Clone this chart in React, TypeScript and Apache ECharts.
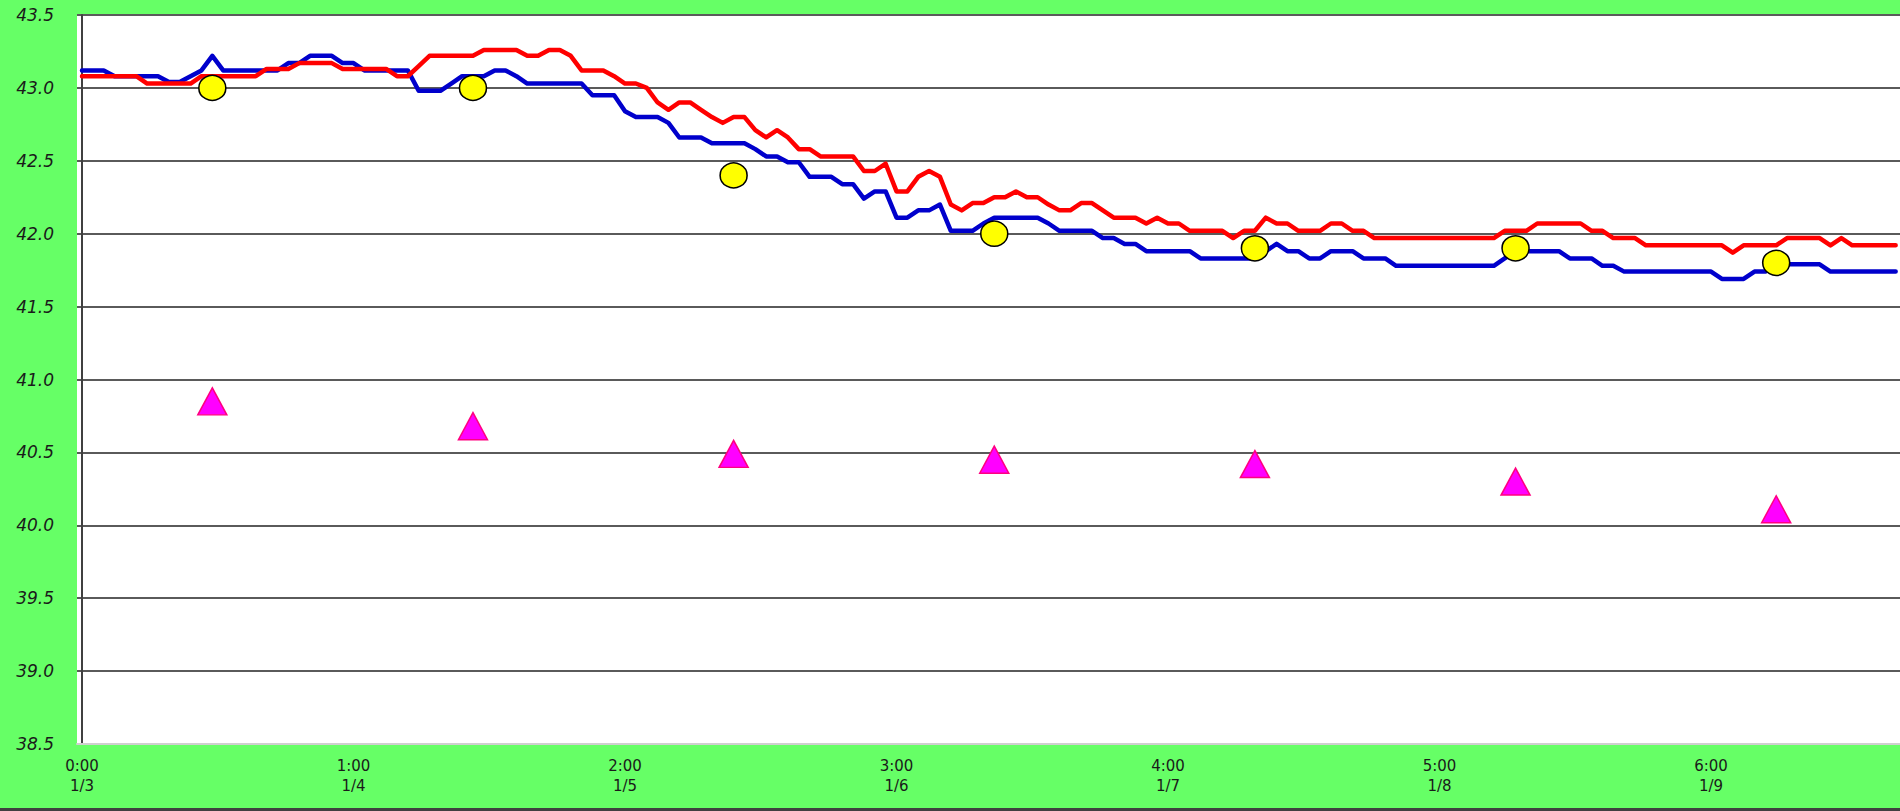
import React, { useEffect, useRef } from "react";
import * as echarts from "echarts";

// Red series (sample index 0..167)
const redValues: number[] = [
  43.08, 43.08, 43.08, 43.08, 43.08, 43.08, 43.03, 43.03, 43.03, 43.03,
  43.03, 43.08, 43.08, 43.08, 43.08, 43.08, 43.08, 43.13, 43.13, 43.13,
  43.17, 43.17, 43.17, 43.17, 43.13, 43.13, 43.13, 43.13, 43.13, 43.08,
  43.08, 43.15, 43.22, 43.22, 43.22, 43.22, 43.22, 43.26, 43.26, 43.26,
  43.26, 43.22, 43.22, 43.26, 43.26, 43.22, 43.12, 43.12, 43.12, 43.08,
  43.03, 43.03, 43.0, 42.9, 42.85, 42.9, 42.9, 42.85, 42.8, 42.76,
  42.8, 42.8, 42.71, 42.66, 42.71, 42.66, 42.58, 42.58, 42.53, 42.53,
  42.53, 42.53, 42.43, 42.43, 42.48, 42.29, 42.29, 42.39, 42.43, 42.39,
  42.2, 42.16, 42.21, 42.21, 42.25, 42.25, 42.29, 42.25, 42.25, 42.2,
  42.16, 42.16, 42.21, 42.21, 42.16, 42.11, 42.11, 42.11, 42.07, 42.11,
  42.07, 42.07, 42.02, 42.02, 42.02, 42.02, 41.97, 42.02, 42.02, 42.11,
  42.07, 42.07, 42.02, 42.02, 42.02, 42.07, 42.07, 42.02, 42.02, 41.97,
  41.97, 41.97, 41.97, 41.97, 41.97, 41.97, 41.97, 41.97, 41.97, 41.97,
  41.97, 42.02, 42.02, 42.02, 42.07, 42.07, 42.07, 42.07, 42.07, 42.02,
  42.02, 41.97, 41.97, 41.97, 41.92, 41.92, 41.92, 41.92, 41.92, 41.92,
  41.92, 41.92, 41.87, 41.92, 41.92, 41.92, 41.92, 41.97, 41.97, 41.97,
  41.97, 41.92, 41.97, 41.92, 41.92, 41.92, 41.92, 41.92,
];

// Blue series (sample index 0..167)
const blueValues: number[] = [
  43.12, 43.12, 43.12, 43.08, 43.08, 43.08, 43.08, 43.08, 43.04, 43.04,
  43.08, 43.12, 43.22, 43.12, 43.12, 43.12, 43.12, 43.12, 43.12, 43.17,
  43.17, 43.22, 43.22, 43.22, 43.17, 43.17, 43.12, 43.12, 43.12, 43.12,
  43.12, 42.98, 42.98, 42.98, 43.03, 43.08, 43.08, 43.08, 43.12, 43.12,
  43.08, 43.03, 43.03, 43.03, 43.03, 43.03, 43.03, 42.95, 42.95, 42.95,
  42.84, 42.8, 42.8, 42.8, 42.76, 42.66, 42.66, 42.66, 42.62, 42.62,
  42.62, 42.62, 42.58, 42.53, 42.53, 42.49, 42.49, 42.39, 42.39, 42.39,
  42.34, 42.34, 42.24, 42.29, 42.29, 42.11, 42.11, 42.16, 42.16, 42.2,
  42.02, 42.02, 42.02, 42.07, 42.11, 42.11, 42.11, 42.11, 42.11, 42.07,
  42.02, 42.02, 42.02, 42.02, 41.97, 41.97, 41.93, 41.93, 41.88, 41.88,
  41.88, 41.88, 41.88, 41.83, 41.83, 41.83, 41.83, 41.83, 41.83, 41.88,
  41.93, 41.88, 41.88, 41.83, 41.83, 41.88, 41.88, 41.88, 41.83, 41.83,
  41.83, 41.78, 41.78, 41.78, 41.78, 41.78, 41.78, 41.78, 41.78, 41.78,
  41.78, 41.83, 41.88, 41.88, 41.88, 41.88, 41.88, 41.83, 41.83, 41.83,
  41.78, 41.78, 41.74, 41.74, 41.74, 41.74, 41.74, 41.74, 41.74, 41.74,
  41.74, 41.69, 41.69, 41.69, 41.74, 41.74, 41.79, 41.79, 41.79, 41.79,
  41.79, 41.74, 41.74, 41.74, 41.74, 41.74, 41.74, 41.74,
];

// Marker positions (sample index) and values
const markerIndex: number[] = [12, 36, 60, 84, 108, 132, 156];
const circleValues: number[] = [43.0, 43.0, 42.4, 42.0, 41.9, 41.9, 41.8];
const triangleValues: number[] = [40.85, 40.68, 40.49, 40.45, 40.42, 40.3, 40.11];

// X tick labels and their sample positions
const tickIndex: number[] = [0, 25, 50, 75, 100, 125, 150];
const tickLabels: string[] = [
  "0:00\n1/3",
  "1:00\n1/4",
  "2:00\n1/5",
  "3:00\n1/6",
  "4:00\n1/7",
  "5:00\n1/8",
  "6:00\n1/9",
];

const Y_MIN = 38.5;
const Y_MAX = 43.5;
const Y_STEP = 0.5;

export default function App() {
  const ref = useRef<HTMLDivElement>(null);

  useEffect(() => {
    document.body.style.margin = "0";
    if (!ref.current) return;
    const chart = echarts.init(ref.current, null, { renderer: "svg" });
    const nSplit = Math.round((Y_MAX - Y_MIN) / Y_STEP) + 1;
    const splitColors = Array.from({ length: nSplit }, (_, i) =>
      i === 0 ? "rgba(0,0,0,0)" : "#5a5a5a"
    );
    chart.setOption({
      animation: false,
      backgroundColor: "#66FF66",
      grid: {
        left: 77,
        right: 0,
        top: 15,
        bottom: 67,
        show: true,
        backgroundColor: "#ffffff",
        borderWidth: 0,
      },
      xAxis: {
        type: "value",
        min: -0.46,
        max: 167.4,
        splitLine: { show: false },
        axisTick: { show: false },
        axisLine: { show: true, lineStyle: { color: "#cfcfcf", width: 2 } },
        axisLabel: {
          customValues: tickIndex,
          formatter: (v: number) => {
            const k = tickIndex.indexOf(Math.round(v));
            return k >= 0 ? tickLabels[k] : "";
          },
          fontFamily: "DejaVu Sans",
          fontSize: 15,
          lineHeight: 20,
          color: "#1a1a1a",
          margin: 12,
          showMinLabel: true,
          showMaxLabel: true,
          hideOverlap: false,
        },
      },
      yAxis: {
        type: "value",
        min: Y_MIN,
        max: Y_MAX,
        interval: Y_STEP,
        axisLine: { show: true, lineStyle: { color: "#404040", width: 2 } },
        axisTick: { show: false },
        axisLabel: {
          formatter: (v: number) => v.toFixed(1),
          fontFamily: "DejaVu Sans",
          fontStyle: "italic",
          fontSize: 17,
          color: "#1a1a1a",
          margin: 23,
        },
        splitLine: {
          show: true,
          lineStyle: { color: splitColors, width: 2 },
        },
      },
      graphic: [
        {
          type: "rect",
          left: 0,
          top: 808,
          shape: { width: 1900, height: 3 },
          style: { fill: "#404040" },
        },
      ],
      series: [
        {
          type: "line",
          data: blueValues.map((v, i) => [i, v]),
          symbol: "none",
          lineStyle: { color: "#0000CC", width: 4.5, cap: "round", join: "round" },
          z: 2,
        },
        {
          type: "line",
          data: redValues.map((v, i) => [i, v]),
          symbol: "none",
          lineStyle: { color: "#FF0000", width: 4.5, cap: "round", join: "round" },
          z: 3,
        },
        {
          type: "scatter",
          data: markerIndex.map((x, i) => [x, circleValues[i]]),
          symbol: "circle",
          symbolSize: [27, 25],
          itemStyle: { color: "#FFFF00", borderColor: "#000000", borderWidth: 1.5, opacity: 1 },
          z: 5,
        },
        {
          type: "scatter",
          data: markerIndex.map((x, i) => [x, triangleValues[i]]),
          symbol: "triangle",
          symbolSize: [29, 27],
          itemStyle: { color: "#FF00FF", borderColor: "#FF0080", borderWidth: 1.5, opacity: 1 },
          z: 5,
        },
      ],
    });
    return () => chart.dispose();
  }, []);

  return <div ref={ref} style={{ width: 1900, height: 811 }} />;
}
